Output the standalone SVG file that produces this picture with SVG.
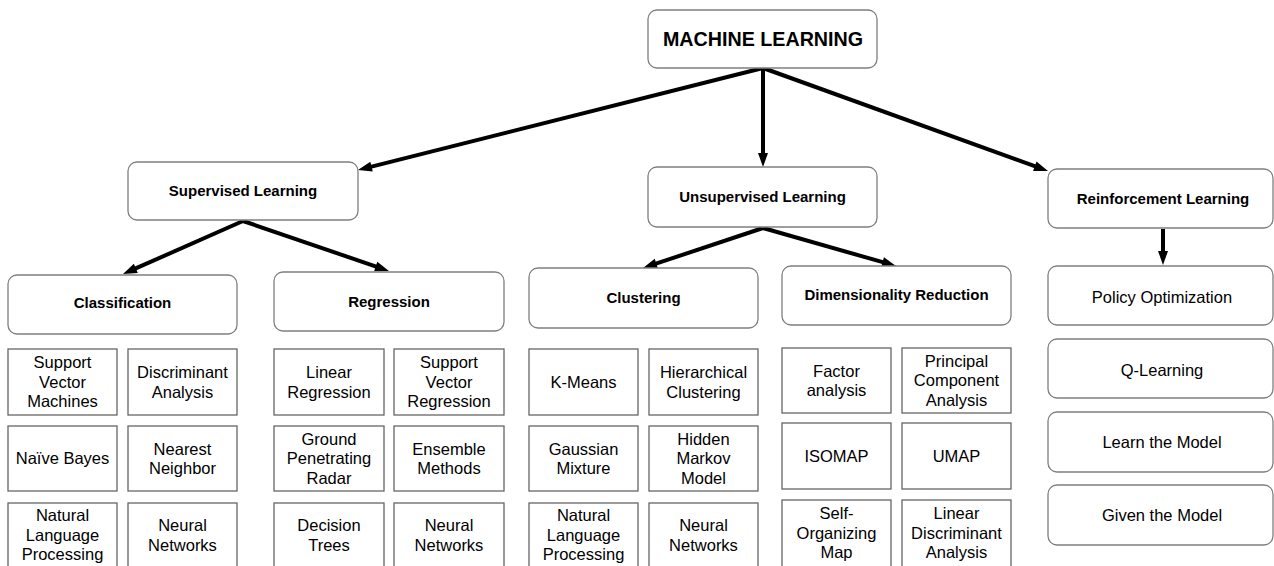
<svg xmlns="http://www.w3.org/2000/svg" width="1274" height="566" viewBox="0 0 1274 566">
  <style>
    .bg { fill: #ffffff; }
    .head rect { fill: #ffffff; stroke: #7f7f7f; stroke-width: 1.3; }
    .leaf rect { fill: #ffffff; stroke: #666666; stroke-width: 1.3; }
    text { font-family: "Liberation Sans", Arial, sans-serif; fill: #000000; text-anchor: middle; }
    .title { font-size: 19.7px; font-weight: bold; }
    .h { font-size: 15px; font-weight: bold; }
    .t { font-size: 16.5px; }
    .edge { stroke: #000000; stroke-width: 4; fill: none; }
  </style>
  <defs>
    <marker id="arrow" markerUnits="userSpaceOnUse" markerWidth="16" markerHeight="12" refX="2" refY="5" orient="auto" overflow="visible">
      <path d="M0,0 L14,5 L0,10 z" fill="#000000"/>
    </marker>
  </defs>

  <rect class="bg" x="0" y="0" width="1274" height="566"/>

  <!-- connectors -->
  <g id="connectors">
    <line class="edge" x1="763" y1="68" x2="369.6" y2="167.1" marker-end="url(#arrow)"/>
    <line class="edge" x1="763" y1="68" x2="763" y2="155" marker-end="url(#arrow)"/>
    <line class="edge" x1="763" y1="68" x2="1036.7" y2="166.9" marker-end="url(#arrow)"/>
    <line class="edge" x1="243" y1="221" x2="134" y2="269.2" marker-end="url(#arrow)"/>
    <line class="edge" x1="243" y1="221" x2="377.6" y2="267.1" marker-end="url(#arrow)"/>
    <line class="edge" x1="763" y1="228" x2="654.4" y2="264.2" marker-end="url(#arrow)"/>
    <line class="edge" x1="763" y1="228" x2="884.5" y2="262.7" marker-end="url(#arrow)"/>
    <line class="edge" x1="1163" y1="229" x2="1163" y2="253" marker-end="url(#arrow)"/>
  </g>

  <!-- root -->
  <g id="machine-learning" class="head">
    <rect x="648" y="10" width="229" height="58" rx="9"/>
    <text class="title" x="763" y="46">MACHINE LEARNING</text>
  </g>

  <!-- second level -->
  <g id="supervised" class="head">
    <rect x="128" y="162" width="230" height="58" rx="9"/>
    <text class="h" x="243" y="196.3">Supervised Learning</text>
  </g>
  <g id="unsupervised" class="head">
    <rect x="648" y="167" width="229" height="60" rx="9"/>
    <text class="h" x="762.5" y="202.3">Unsupervised Learning</text>
  </g>
  <g id="reinforcement" class="head">
    <rect x="1048" y="169" width="225" height="59" rx="9"/>
    <text class="h" x="1163" y="204.3">Reinforcement Learning</text>
  </g>

  <!-- third level -->
  <g id="classification" class="head">
    <rect x="8" y="275" width="229" height="59" rx="9"/>
    <text class="h" x="122.5" y="308.3">Classification</text>
  </g>
  <g id="regression" class="head">
    <rect x="274" y="272" width="230" height="59" rx="9"/>
    <text class="h" x="389" y="307.3">Regression</text>
  </g>
  <g id="clustering" class="head">
    <rect x="529" y="268" width="229" height="60" rx="9"/>
    <text class="h" x="643.5" y="303.3">Clustering</text>
  </g>
  <g id="dimensionality-reduction" class="head">
    <rect x="782" y="266" width="229" height="59" rx="9"/>
    <text class="h" x="896.5" y="300.3">Dimensionality Reduction</text>
  </g>

  <!-- reinforcement learning methods -->
  <g id="policy-optimization" class="head">
    <rect x="1048" y="266" width="225" height="59" rx="9"/>
    <text class="t" x="1162" y="302.8">Policy Optimization</text>
  </g>
  <g id="q-learning" class="head">
    <rect x="1048" y="339" width="225" height="59" rx="9"/>
    <text class="t" x="1162" y="375.8">Q-Learning</text>
  </g>
  <g id="learn-the-model" class="head">
    <rect x="1048" y="412" width="225" height="60" rx="9"/>
    <text class="t" x="1162" y="447.8">Learn the Model</text>
  </g>
  <g id="given-the-model" class="head">
    <rect x="1048" y="485" width="225" height="60" rx="9"/>
    <text class="t" x="1162" y="520.8">Given the Model</text>
  </g>

  <!-- classification methods -->
  <g id="svm" class="leaf">
    <rect x="8" y="349" width="109" height="66"/>
    <text class="t"><tspan x="62.5" y="368.3">Support</tspan><tspan x="62.5" y="387.8">Vector</tspan><tspan x="62.5" y="407.3">Machines</tspan></text>
  </g>
  <g id="discriminant-analysis" class="leaf">
    <rect x="128" y="349" width="109" height="66"/>
    <text class="t"><tspan x="182.5" y="378">Discriminant</tspan><tspan x="182.5" y="397.5">Analysis</tspan></text>
  </g>
  <g id="naive-bayes" class="leaf">
    <rect x="8" y="426" width="109" height="65"/>
    <text class="t" x="62.5" y="464.3">Naïve Bayes</text>
  </g>
  <g id="nearest-neighbor" class="leaf">
    <rect x="128" y="426" width="109" height="65"/>
    <text class="t"><tspan x="182.5" y="454.5">Nearest</tspan><tspan x="182.5" y="474">Neighbor</tspan></text>
  </g>
  <g id="nlp-classification" class="leaf">
    <rect x="8" y="503" width="109" height="66"/>
    <text class="t"><tspan x="62.5" y="521.3">Natural</tspan><tspan x="62.5" y="540.8">Language</tspan><tspan x="62.5" y="560.3">Processing</tspan></text>
  </g>
  <g id="nn-classification" class="leaf">
    <rect x="128" y="503" width="109" height="66"/>
    <text class="t"><tspan x="182.5" y="531">Neural</tspan><tspan x="182.5" y="550.5">Networks</tspan></text>
  </g>

  <!-- regression methods -->
  <g id="linear-regression" class="leaf">
    <rect x="274" y="349" width="110" height="66"/>
    <text class="t"><tspan x="329" y="378">Linear</tspan><tspan x="329" y="397.5">Regression</tspan></text>
  </g>
  <g id="svr" class="leaf">
    <rect x="394" y="349" width="110" height="66"/>
    <text class="t"><tspan x="449" y="368.3">Support</tspan><tspan x="449" y="387.8">Vector</tspan><tspan x="449" y="407.3">Regression</tspan></text>
  </g>
  <g id="gpr" class="leaf">
    <rect x="274" y="426" width="110" height="65"/>
    <text class="t"><tspan x="329" y="444.8">Ground</tspan><tspan x="329" y="464.3">Penetrating</tspan><tspan x="329" y="483.8">Radar</tspan></text>
  </g>
  <g id="ensemble-methods" class="leaf">
    <rect x="394" y="426" width="110" height="65"/>
    <text class="t"><tspan x="449" y="454.5">Ensemble</tspan><tspan x="449" y="474">Methods</tspan></text>
  </g>
  <g id="decision-trees" class="leaf">
    <rect x="274" y="503" width="110" height="66"/>
    <text class="t"><tspan x="329" y="531">Decision</tspan><tspan x="329" y="550.5">Trees</tspan></text>
  </g>
  <g id="nn-regression" class="leaf">
    <rect x="394" y="503" width="110" height="66"/>
    <text class="t"><tspan x="449" y="531">Neural</tspan><tspan x="449" y="550.5">Networks</tspan></text>
  </g>

  <!-- clustering methods -->
  <g id="k-means" class="leaf">
    <rect x="529" y="349" width="109" height="66"/>
    <text class="t" x="583.5" y="387.8">K-Means</text>
  </g>
  <g id="hierarchical-clustering" class="leaf">
    <rect x="649" y="349" width="109" height="66"/>
    <text class="t"><tspan x="703.5" y="378">Hierarchical</tspan><tspan x="703.5" y="397.5">Clustering</tspan></text>
  </g>
  <g id="gaussian-mixture" class="leaf">
    <rect x="529" y="426" width="109" height="65"/>
    <text class="t"><tspan x="583.5" y="454.5">Gaussian</tspan><tspan x="583.5" y="474">Mixture</tspan></text>
  </g>
  <g id="hmm" class="leaf">
    <rect x="649" y="426" width="109" height="65"/>
    <text class="t"><tspan x="703.5" y="444.8">Hidden</tspan><tspan x="703.5" y="464.3">Markov</tspan><tspan x="703.5" y="483.8">Model</tspan></text>
  </g>
  <g id="nlp-clustering" class="leaf">
    <rect x="529" y="503" width="109" height="66"/>
    <text class="t"><tspan x="583.5" y="521.3">Natural</tspan><tspan x="583.5" y="540.8">Language</tspan><tspan x="583.5" y="560.3">Processing</tspan></text>
  </g>
  <g id="nn-clustering" class="leaf">
    <rect x="649" y="503" width="109" height="66"/>
    <text class="t"><tspan x="703.5" y="531">Neural</tspan><tspan x="703.5" y="550.5">Networks</tspan></text>
  </g>

  <!-- dimensionality reduction methods -->
  <g id="factor-analysis" class="leaf">
    <rect x="782" y="348" width="109" height="65"/>
    <text class="t"><tspan x="836.5" y="376.5">Factor</tspan><tspan x="836.5" y="396">analysis</tspan></text>
  </g>
  <g id="pca" class="leaf">
    <rect x="902" y="348" width="109" height="65"/>
    <text class="t"><tspan x="956.5" y="366.8">Principal</tspan><tspan x="956.5" y="386.3">Component</tspan><tspan x="956.5" y="405.8">Analysis</tspan></text>
  </g>
  <g id="isomap" class="leaf">
    <rect x="782" y="423" width="109" height="66"/>
    <text class="t" x="836.5" y="461.8">ISOMAP</text>
  </g>
  <g id="umap" class="leaf">
    <rect x="902" y="423" width="109" height="66"/>
    <text class="t" x="956.5" y="461.8">UMAP</text>
  </g>
  <g id="som" class="leaf">
    <rect x="782" y="500" width="109" height="68"/>
    <text class="t"><tspan x="836.5" y="519.3">Self-</tspan><tspan x="836.5" y="538.8">Organizing</tspan><tspan x="836.5" y="558.3">Map</tspan></text>
  </g>
  <g id="lda" class="leaf">
    <rect x="902" y="500" width="109" height="68"/>
    <text class="t"><tspan x="956.5" y="519.3">Linear</tspan><tspan x="956.5" y="538.8">Discriminant</tspan><tspan x="956.5" y="558.3">Analysis</tspan></text>
  </g>
</svg>
